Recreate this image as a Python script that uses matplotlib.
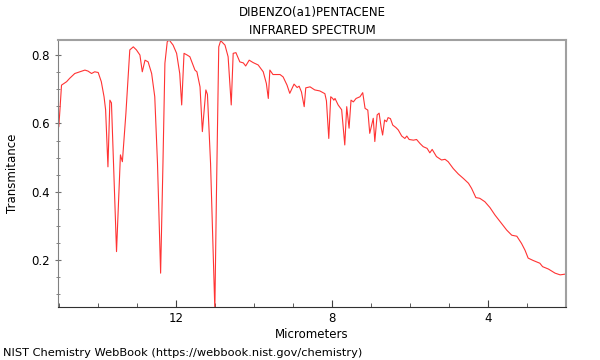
import numpy as np
import matplotlib
matplotlib.use("Agg")
from matplotlib import pyplot as plt
from matplotlib.ticker import MultipleLocator

# wavelength (micrometers) and transmittance
wavelength = [15.02, 15.00, 14.97, 14.93, 14.80, 14.72, 14.59, 14.46, 14.33, 14.25,
              14.16, 14.08, 13.99, 13.91, 13.84, 13.80, 13.74, 13.69, 13.65, 13.52,
              13.42, 13.37, 13.28, 13.18, 13.09, 13.01, 12.92, 12.86, 12.79, 12.71,
              12.62, 12.54, 12.47, 12.39, 12.33, 12.28, 12.22, 12.17, 12.07, 11.98,
              11.90, 11.85, 11.79, 11.71, 11.64, 11.51, 11.46, 11.38, 11.32, 11.23,
              11.19, 11.11, 11.00, 10.96, 10.90, 10.85, 10.74, 10.66, 10.58, 10.53,
              10.46, 10.36, 10.27, 10.21, 10.12, 10.02, 9.89, 9.76, 9.68, 9.63,
              9.59, 9.51, 9.33, 9.25, 9.15, 9.08, 8.97, 8.89, 8.84, 8.78,
              8.71, 8.67, 8.56, 8.44, 8.31, 8.18, 8.14, 8.08, 8.03, 7.98,
              7.95, 7.92, 7.84, 7.75, 7.67, 7.62, 7.56, 7.51, 7.45, 7.38,
              7.28, 7.21, 7.15, 7.08, 7.03, 6.98, 6.94, 6.90, 6.84, 6.79,
              6.74, 6.70, 6.65, 6.60, 6.56, 6.50, 6.44, 6.36, 6.30, 6.21,
              6.13, 6.08, 6.02, 5.91, 5.83, 5.74, 5.66, 5.56, 5.49, 5.43,
              5.32, 5.19, 5.10, 5.02, 4.89, 4.76, 4.63, 4.50, 4.42, 4.31,
              4.21, 4.08, 3.95, 3.82, 3.69, 3.52, 3.39, 3.26, 3.14, 3.05,
              2.97, 2.84, 2.67, 2.60, 2.45, 2.28, 2.15, 2.03]
transmittance = [0.663, 0.590, 0.640, 0.712, 0.722, 0.732, 0.746, 0.751, 0.756, 0.753,
                 0.746, 0.751, 0.749, 0.722, 0.678, 0.640, 0.473, 0.668, 0.660, 0.225,
                 0.508, 0.488, 0.629, 0.815, 0.824, 0.815, 0.800, 0.751, 0.785, 0.780,
                 0.746, 0.678, 0.483, 0.162, 0.483, 0.776, 0.839, 0.844, 0.829, 0.805,
                 0.746, 0.654, 0.805, 0.800, 0.795, 0.756, 0.751, 0.707, 0.576, 0.698,
                 0.685, 0.483, 0.055, 0.386, 0.824, 0.842, 0.829, 0.795, 0.654, 0.805,
                 0.807, 0.780, 0.777, 0.768, 0.785, 0.778, 0.771, 0.751, 0.717, 0.673,
                 0.756, 0.743, 0.743, 0.736, 0.712, 0.688, 0.715, 0.705, 0.709, 0.692,
                 0.649, 0.704, 0.707, 0.698, 0.695, 0.687, 0.666, 0.556, 0.678, 0.673,
                 0.668, 0.673, 0.654, 0.640, 0.537, 0.649, 0.586, 0.668, 0.663, 0.673,
                 0.678, 0.690, 0.644, 0.639, 0.571, 0.595, 0.615, 0.547, 0.625, 0.630,
                 0.590, 0.566, 0.610, 0.605, 0.617, 0.614, 0.595, 0.588, 0.581, 0.563,
                 0.556, 0.563, 0.553, 0.551, 0.553, 0.541, 0.532, 0.527, 0.514, 0.524,
                 0.503, 0.493, 0.495, 0.488, 0.468, 0.452, 0.439, 0.425, 0.410, 0.383,
                 0.381, 0.371, 0.354, 0.332, 0.313, 0.288, 0.273, 0.270, 0.249, 0.229,
                 0.206, 0.199, 0.191, 0.181, 0.174, 0.162, 0.157, 0.159]

title = "DIBENZO(a1)PENTACENE\nINFRARED SPECTRUM"
footer = "NIST Chemistry WebBook (https://webbook.nist.gov/chemistry)"

fig = plt.figure(figsize=(6, 3.6), dpi=100)
ax = fig.add_axes([58 / 600, 1 - 307 / 360, 508 / 600, 267 / 360])

ax.plot(wavelength, transmittance, color="#ff3333", lw=0.8)

ax.set_xlim(15.02, 2.0)
ax.set_ylim(0.063, 0.844)
ax.xaxis.set_major_locator(MultipleLocator(4))
ax.xaxis.set_minor_locator(MultipleLocator(1))
ax.yaxis.set_major_locator(MultipleLocator(0.2))
ax.yaxis.set_minor_locator(MultipleLocator(0.05))
ax.tick_params(axis="x", which="both", direction="in", labelsize=8.5, color="#404040")
ax.tick_params(axis="y", which="both", direction="inout", labelsize=8.5, color="#707070")
ax.tick_params(which="major", length=5)
ax.tick_params(which="minor", length=3)

for side in ["top", "right"]:
    ax.spines[side].set_color("#a0a0a0")
    ax.spines[side].set_linewidth(1.5)
ax.spines["left"].set_color("#808080")
ax.spines["bottom"].set_color("#303030")

ax.set_xlabel("Micrometers", fontsize=8.5, labelpad=2)
ax.set_ylabel("Transmitance", fontsize=8.5, labelpad=9)
fig.text(312 / 600, 1 - 6 / 360, title, ha="center", va="top", fontsize=8.5, linespacing=1.45)
fig.text(3 / 600, 1 - 353 / 360, footer, ha="left", va="center", fontsize=8.2)

fig.savefig("out.png", dpi=100)
